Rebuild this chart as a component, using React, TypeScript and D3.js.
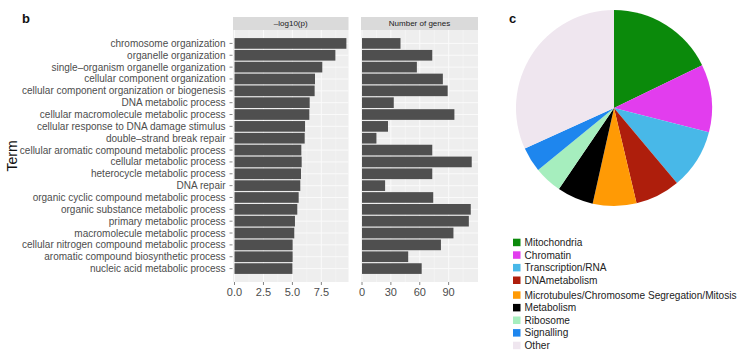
import React from "react";
import * as d3 from "d3";

const terms = [
  "chromosome organization",
  "organelle organization",
  "single\u2013organism organelle organization",
  "cellular component organization",
  "cellular component organization or biogenesis",
  "DNA metabolic process",
  "cellular macromolecule metabolic process",
  "cellular response to DNA damage stimulus",
  "double\u2013strand break repair",
  "cellular aromatic compound metabolic process",
  "cellular metabolic process",
  "heterocycle metabolic process",
  "DNA repair",
  "organic cyclic compound metabolic process",
  "organic substance metabolic process",
  "primary metabolic process",
  "macromolecule metabolic process",
  "cellular nitrogen compound metabolic process",
  "aromatic compound biosynthetic process",
  "nucleic acid metabolic process",
];
const logP = [9.66, 8.71, 7.58, 6.95, 6.92, 6.49, 6.46, 6.09, 6.06, 5.77, 5.8, 5.74, 5.68, 5.54, 5.42, 5.22, 5.16, 5.02, 5.02, 5.0];
const nGenes = [40, 73, 57, 84, 89, 33, 96, 27, 15, 73, 114, 73, 24, 74, 113, 111, 95, 82, 48, 62];
const logPTicks = [0, 2.5, 5, 7.5];
const logPTickLabels = ["0.0", "2.5", "5.0", "7.5"];
const geneTicks = [0, 30, 60, 90];
const geneTickLabels = ["0", "30", "60", "90"];
const stripTitles = ["\u2013log10(p)", "Number of genes"];

const pieCats = [
  "Mitochondria",
  "Chromatin",
  "Transcription/RNA",
  "DNAmetabolism",
  "Microtubules/Chromosome Segregation/Mitosis",
  "Metabolism",
  "Ribosome",
  "Signalling",
  "Other",
];
const pieVals = [17.8, 11.2, 9.9, 7.4, 7.2, 6.0, 4.6, 4.1, 31.8];
const pieColors = ["#0B8A0B", "#E23DEE", "#48B8E8", "#AE1E0C", "#FF9A05", "#000000", "#A6EEBE", "#1E86EE", "#EFE6EF"];

const FONT = "'Liberation Sans', Arial, Helvetica, sans-serif";

export default function App() {
  const top = 30, bottom = 282;
  const y = d3.scaleBand<number>().domain(d3.range(terms.length)).range([top + 0.6 * 12.49, bottom - 0.6 * 12.49]).paddingInner(0.1).paddingOuter(0.05);
  const yc = (i: number) => (y(i) as number) + y.bandwidth() / 2;

  const panels = [
    { x0: 233, x1: 348.5, scale: d3.scaleLinear().domain([0, 9.8]).range([234.5, 348]), vals: logP, ticks: logPTicks, labels: logPTickLabels, title: stripTitles[0] },
    { x0: 361, x1: 478, scale: d3.scaleLinear().domain([0, 120]).range([362, 477.5]), vals: nGenes, ticks: geneTicks, labels: geneTickLabels, title: stripTitles[1] },
  ];

  const cx = 614, cy = 108, r = 98;
  const pie = d3.pie<number>().sort(null).value((d) => d)(pieVals);
  const arc = d3.arc<d3.PieArcDatum<number>>().innerRadius(0).outerRadius(r);

  return (
    <div style={{ position: "absolute", left: 0, top: 0 }}>
      <svg width={747} height={358} style={{ display: "block", background: "#fff" }} fontFamily={FONT}>
        <text x={22} y={23} fontSize={13} fontWeight="bold" fill="#111">b</text>
        <text x={509} y={23} fontSize={13} fontWeight="bold" fill="#111">c</text>
        <text transform={`translate(17,${(top + bottom) / 2}) rotate(-90)`} textAnchor="middle" fontSize={14} fill="#111">Term</text>

        {terms.map((t, i) => (
          <g key={t}>
            <text x={225.5} y={yc(i)} dy="0.35em" textAnchor="end" fontSize={10} fill="#4D4D4D">{t}</text>
            <line x1={229.5} x2={232.5} y1={yc(i)} y2={yc(i)} stroke="#666" strokeWidth={0.8} />
          </g>
        ))}

        {panels.map((p, pi) => {
          const minor = p.ticks.slice(0, -1).map((t, k) => (t + p.ticks[k + 1]) / 2).concat([p.ticks[p.ticks.length - 1] + (p.ticks[1] - p.ticks[0]) / 2]).filter((v) => p.scale(v) < p.x1);
          return (
            <g key={pi}>
              <rect x={p.x0} y={17} width={p.x1 - p.x0} height={13} fill="#DADADA" />
              <text x={(p.x0 + p.x1) / 2} y={23.5} dy="0.35em" textAnchor="middle" fontSize={8} fill="#1A1A1A">{p.title}</text>
              <rect x={p.x0} y={top} width={p.x1 - p.x0} height={bottom - top} fill="#EEEEEE" />
              {minor.map((m) => (
                <line key={"m" + m} x1={p.scale(m)} x2={p.scale(m)} y1={top} y2={bottom} stroke="#F8F8F8" strokeWidth={0.5} />
              ))}
              {p.ticks.map((t) => (
                <line key={"g" + t} x1={p.scale(t)} x2={p.scale(t)} y1={top} y2={bottom} stroke="#FAFAFA" strokeWidth={1} />
              ))}
              {terms.map((_, i) => (
                <line key={"h" + i} x1={p.x0} x2={p.x1} y1={yc(i)} y2={yc(i)} stroke="#FAFAFA" strokeWidth={1} />
              ))}
              {p.vals.map((v, i) => (
                <rect key={"b" + i} x={p.scale(0)} y={y(i) as number} width={p.scale(v) - p.scale(0)} height={y.bandwidth()} fill="#4F4F4F" />
              ))}
              {p.ticks.map((t, k) => (
                <g key={"t" + t}>
                  <line x1={p.scale(t)} x2={p.scale(t)} y1={bottom} y2={bottom + 3} stroke="#666" strokeWidth={0.8} />
                  <text x={p.scale(t)} y={295.5} textAnchor="middle" fontSize={11} fill="#4D4D4D">{p.labels[k]}</text>
                </g>
              ))}
            </g>
          );
        })}

        <g transform={`translate(${cx},${cy})`}>
          {pie.map((s, i) => (
            <path key={pieCats[i]} d={arc(s) || ""} fill={pieColors[i]} />
          ))}
        </g>

        {pieCats.map((c, i) => {
          const ly = 242.5 + i * 12.6 + (i >= 4 ? 2.2 : 0);
          return (
            <g key={c}>
              <rect x={513} y={ly - 3.8} width={7.5} height={7.5} fill={pieColors[i]} />
              <text x={524.5} y={ly} dy="0.35em" fontSize={10.1} fill="#222">{c}</text>
            </g>
          );
        })}
      </svg>
    </div>
  );
}
